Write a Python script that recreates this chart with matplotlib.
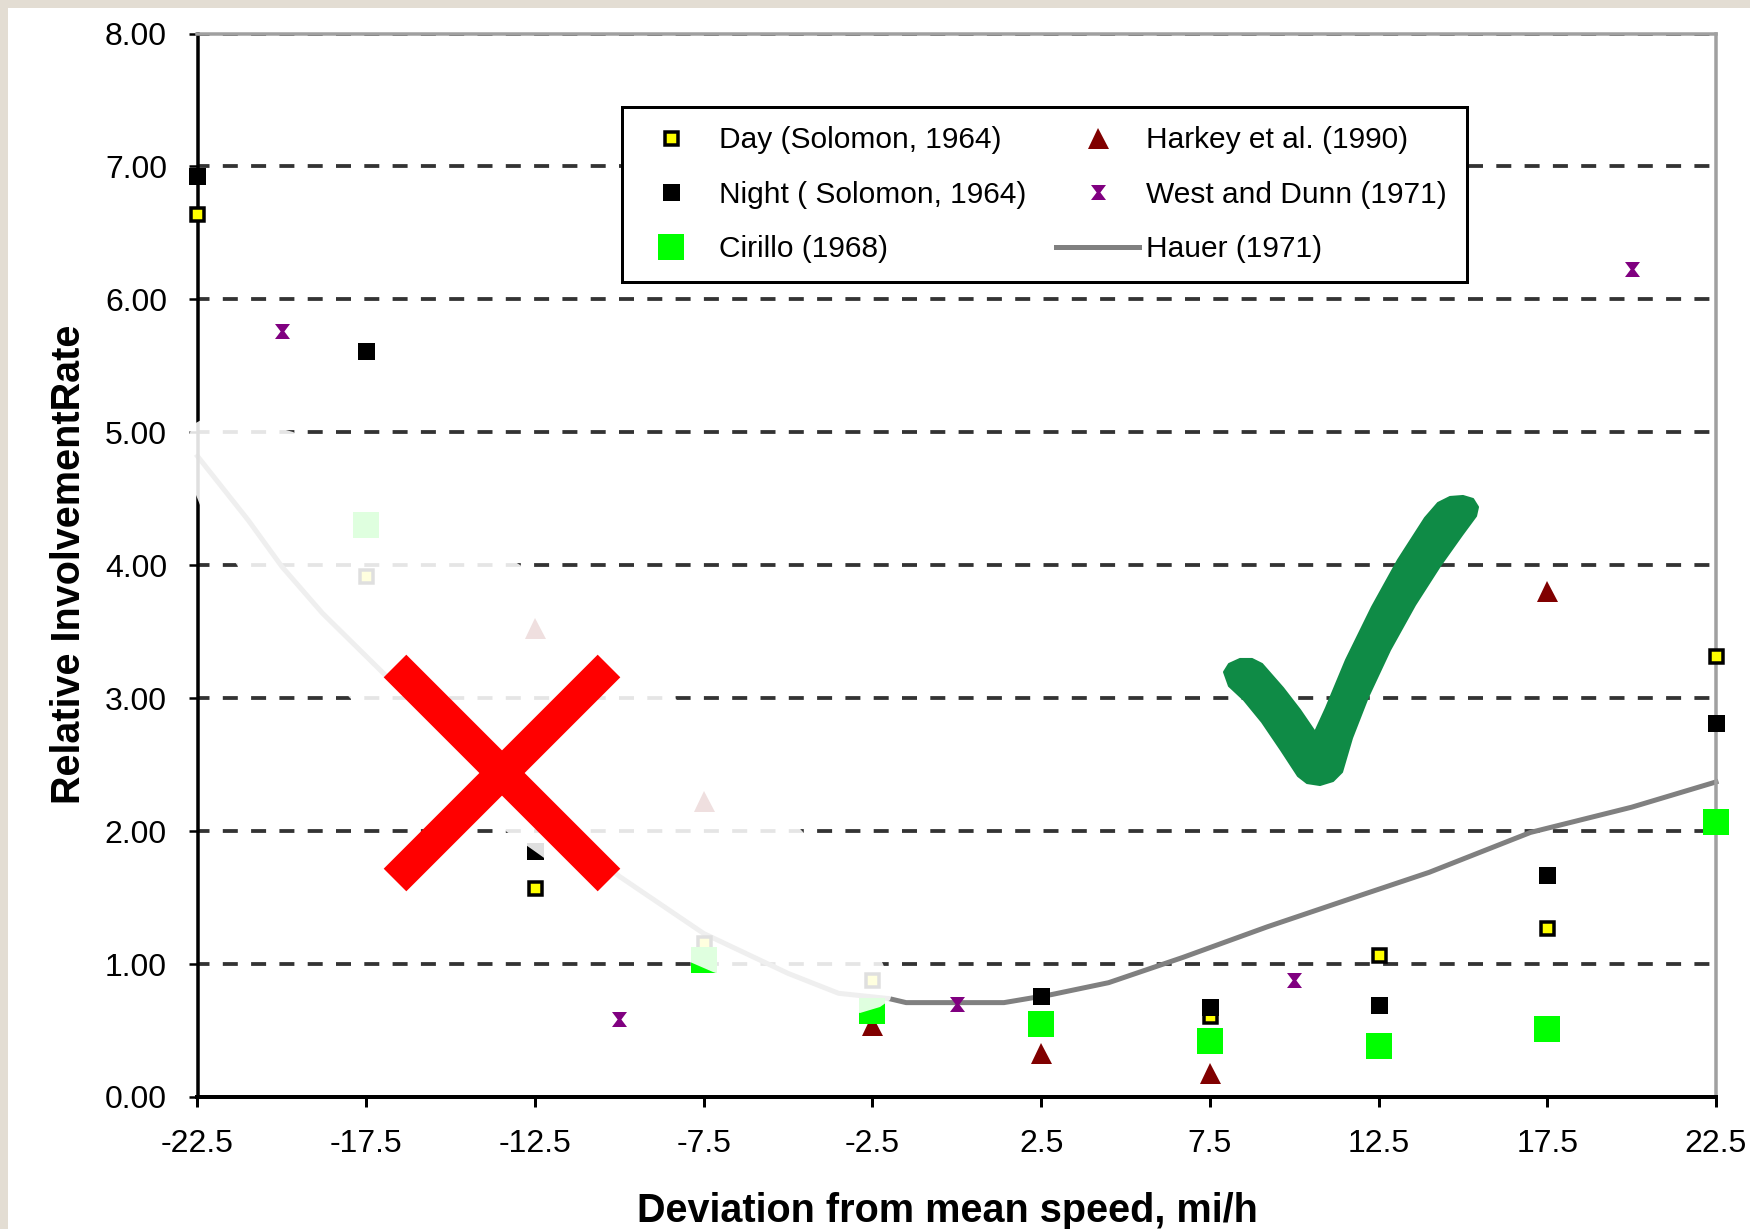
import matplotlib
matplotlib.use("Agg")
import matplotlib.pyplot as plt
from matplotlib.patches import Polygon, Rectangle
from matplotlib.lines import Line2D
from matplotlib.path import Path

W, H, DPI = 1750, 1229, 100
plt.rcParams["font.family"] = ["Liberation Sans", "DejaVu Sans"]
plt.rcParams["lines.scale_dashes"] = False

# ---------------- data ----------------
x_ticks = [-22.5, -17.5, -12.5, -7.5, -2.5, 2.5, 7.5, 12.5, 17.5, 22.5]
x_tick_labels = ["-22.5", "-17.5", "-12.5", "-7.5", "-2.5", "2.5", "7.5", "12.5", "17.5", "22.5"]
y_ticks = [0, 1, 2, 3, 4, 5, 6, 7, 8]
y_tick_labels = ["0.00", "1.00", "2.00", "3.00", "4.00", "5.00", "6.00", "7.00", "8.00"]

day_x = [-22.5, -17.5, -12.5, -7.5, -2.5, 7.5, 12.5, 17.5, 22.5]
day_y = [6.64, 3.92, 1.57, 1.16, 0.88, 0.61, 1.07, 1.27, 3.32]
night_x = [-22.5, -17.5, -12.5, 2.5, 7.5, 12.5, 17.5, 22.5]
night_y = [6.93, 5.61, 1.85, 0.76, 0.68, 0.69, 1.67, 2.81]
cirillo_x = [-17.5, -7.5, -2.5, 2.5, 7.5, 12.5, 17.5, 22.5]
cirillo_y = [4.30, 1.03, 0.65, 0.55, 0.42, 0.38, 0.51, 2.07]
harkey_x = [-12.5, -7.5, -2.5, 2.5, 7.5, 17.5]
harkey_y = [3.53, 2.23, 0.54, 0.33, 0.18, 3.81]
west_x = [-20, -10, 0, 10, 20]
west_y = [5.76, 0.59, 0.70, 0.88, 6.23]
hauer_x = [-22.5, -21, -20, -18.8, -17, -15, -12.5, -10, -7.5, -5, -3.5, -2, -1.5,
           1.4, 2.8, 4.5, 6.7, 9.2, 12, 14, 17, 20, 22.5]
hauer_y = [4.82, 4.34, 3.99, 3.64, 3.19, 2.72, 2.17, 1.66, 1.23, 0.93, 0.78, 0.74, 0.71,
           0.71, 0.77, 0.86, 1.05, 1.28, 1.52, 1.69, 1.99, 2.18, 2.37]

labels = ["Day (Solomon, 1964)", "Night ( Solomon, 1964)", "Cirillo (1968)",
          "Harkey et al. (1990)", "West and Dunn (1971)", "Hauer (1971)"]
x_label = "Deviation from mean speed, mi/h"
y_label = "Relative InvolvementRate"


def pt(px):
    return px * 72.0 / DPI


def F(x, y):
    return (x / W, 1 - y / H)


fig = plt.figure(figsize=(W / DPI, H / DPI), dpi=DPI, facecolor="white")
L, R, T, B = 197.5, 1716.0, 33.5, 1097.0
ax = fig.add_axes([L / W, 1 - B / H, (R - L) / W, (B - T) / H])
ax.set_xlim(-22.5, 22.5)
ax.set_ylim(0, 8)
ax.set_axisbelow(True)

# grid
ax.yaxis.grid(True, color="#333333", linewidth=pt(3.8),
              linestyle=(pt(3.5), (pt(15), pt(13.3))))
ax.xaxis.grid(False)

# spines
for s in ["left", "bottom"]:
    ax.spines[s].set_color("black")
ax.spines["left"].set_linewidth(pt(3.5))
ax.spines["bottom"].set_linewidth(pt(4))
for s in ["top", "right"]:
    ax.spines[s].set_color("#a0a0a0")
    ax.spines[s].set_linewidth(pt(3.5))

ax.set_xticks(x_ticks)
ax.set_xticklabels(x_tick_labels)
ax.set_yticks(y_ticks)
ax.set_yticklabels(y_tick_labels)
ax.tick_params(axis="y", direction="out", length=pt(9), width=pt(2.5), pad=15.5,
               labelsize=23, colors="black")
ax.tick_params(axis="x", direction="out", length=pt(10), width=pt(3), pad=16,
               labelsize=23, colors="black")

# series
h_hauer, = ax.plot(hauer_x, hauer_y, color="#808080", lw=pt(5), zorder=2,
                   solid_joinstyle="round", clip_on=False)
h_day, = ax.plot(day_x, day_y, ls="none", marker="s", ms=pt(13), mfc="#ffff00",
                 mec="black", mew=pt(3.5), zorder=3, clip_on=False)
h_night, = ax.plot(night_x, night_y, ls="none", marker="s", ms=pt(17), mfc="black",
                   mec="black", mew=0, zorder=3.1, clip_on=False)
h_harkey, = ax.plot(harkey_x, harkey_y, ls="none", marker="^", ms=pt(21), mfc="#800000",
                    mec="#800000", mew=0, zorder=3.2, clip_on=False)
h_cir, = ax.plot(cirillo_x, cirillo_y, ls="none", marker="s", ms=pt(26), mfc="#00ff00",
                 mec="#00ff00", mew=0, zorder=3.3, clip_on=False)
hourglass = Path([(-1, 1), (1, 1), (0.25, 0), (1, -1), (-1, -1), (-0.25, 0), (-1, 1)],
                 [1, 2, 2, 2, 2, 2, 79])
h_west, = ax.plot(west_x, west_y, ls="none", marker=hourglass, ms=pt(15), mfc="#800080",
                  mec="#800080", mew=0, zorder=3.4, clip_on=False)

# legend box + legend
ax.add_patch(Rectangle(F(622, 282), (1467 - 622) / W, (282 - 107) / H,
                       transform=fig.transFigure, facecolor="white", edgecolor="black",
                       linewidth=pt(3), zorder=4.5, clip_on=False))
leg = ax.legend([h_day, h_night, h_cir, h_harkey, h_west, h_hauer], labels, ncol=2,
                loc="upper left", bbox_to_anchor=F(629, 126.5), bbox_transform=fig.transFigure,
                frameon=False, borderpad=0, borderaxespad=0, fontsize=21.5,
                handlelength=2.8, handletextpad=0.23, columnspacing=0.97,
                labelspacing=0.88, numpoints=1)
leg.set_zorder(5)

# labels
fig.text(69.5 / W, 1 - 564 / H, y_label, rotation=90, ha="center", va="center",
         fontsize=28.5, fontweight="bold")
fig.text(947 / W, 1 - 1222 / H, x_label, ha="center", va="baseline",
         fontsize=28.5, fontweight="bold")

# translucent white overlay over left part
overlay_px = [(188, 440), (192, 425), (205, 418), (250, 420), (293, 432), (400, 490),
              (520, 565), (675, 698), (803, 832), (850, 900), (883, 964), (893, 990),
              (890, 1000), (880, 1007), (860, 1013), (780, 995), (713, 972), (690, 962),
              (533, 850), (507, 832), (350, 698), (237, 565), (200, 505), (190, 480),
              (187, 460)]
ax.add_patch(Polygon([F(x, y) for x, y in overlay_px], closed=True,
                     transform=fig.transFigure, facecolor="white", edgecolor="none",
                     alpha=0.88, zorder=6, clip_on=False))

# red X
for (x0, y0, x1, y1) in [(395, 666, 609, 880), (609, 666, 395, 880)]:
    ax.add_line(Line2D([x0 / W, x1 / W], [1 - y0 / H, 1 - y1 / H], transform=fig.transFigure,
                       color="#ff0000", lw=pt(32), solid_capstyle="butt", zorder=10,
                       clip_on=False))

# green check mark
check_px = [(1224, 672), (1229, 664), (1240, 659), (1252, 659), (1262, 664),
            (1283, 688), (1300, 710), (1315, 732),
            (1326, 708), (1346, 660), (1372, 607), (1398, 560), (1425, 518), (1438, 503),
            (1450, 497), (1463, 496), (1473, 499), (1478, 507), (1476, 516),
            (1462, 535), (1440, 566), (1415, 605), (1390, 650), (1368, 697), (1352, 738),
            (1342, 772), (1333, 781), (1320, 785), (1307, 783), (1298, 776),
            (1281, 750), (1262, 722), (1244, 700), (1229, 686)]
ax.add_patch(Polygon([F(x, y) for x, y in check_px], closed=True, transform=fig.transFigure,
                     facecolor="#0f8b46", edgecolor="#0f8b46", linewidth=1.5,
                     joinstyle="round", zorder=10, clip_on=False))

# beige frame strips (top and left)
fig.add_artist(Rectangle((0, 1 - 7.5 / H), 1, 7.5 / H, transform=fig.transFigure,
                         facecolor="#e3ddd3", edgecolor="none"))
fig.add_artist(Rectangle((0, 0), 8 / W, 1, transform=fig.transFigure,
                         facecolor="#e3ddd3", edgecolor="none"))

fig.savefig("out.png", dpi=DPI, facecolor="white")
